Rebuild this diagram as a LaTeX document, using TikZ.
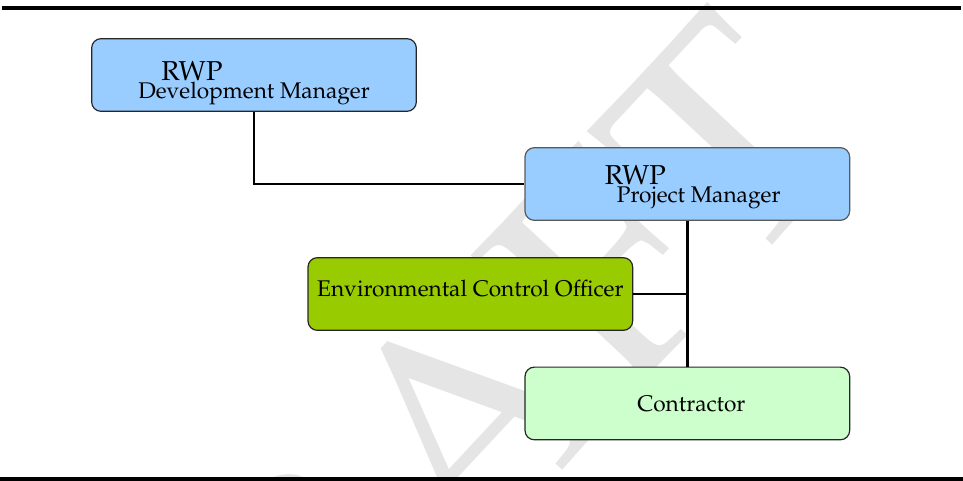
\documentclass[tikz,border=0pt]{standalone}
\usepackage[T1]{fontenc}
\usepackage{mathpazo}
\usepackage{tikz}
\usetikzlibrary{shapes,arrows}
\definecolor{birumuda}{HTML}{99CCFF}
\definecolor{hijau}{HTML}{99CC00}
\definecolor{hijaumuda}{HTML}{CCFFCC}
\tikzstyle{kotak} = [rectangle, draw=black!85, line width=0.9pt, rounded corners=7pt, minimum width=243.5pt, minimum height=54.5pt, inner sep=0pt, align=center, font=\fontsize{17}{13.5}\selectfont]
\tikzstyle{garis} = [draw, line width=2.1pt]
\tikzstyle{tepi} = [draw, line width=3pt]
\tikzstyle{tandaair} = [rotate=47, anchor=base east, inner sep=0pt, text=black!10, font=\fontsize{230}{230}\selectfont]
\newcommand{\rwp}{\fontsize{20.5}{13.5}\selectfont RWP}

\begin{document}
\begin{tikzpicture}[node distance = 1cm, auto]
\useasboundingbox (0,0) rectangle (722.25pt,-360.75pt);

% watermark
\begin{scope}
\clip (0,0) rectangle (722.25pt,-360.75pt);
\node [tandaair] (draft) at (650pt,-107pt) {DRAFT};
\end{scope}

% garis atas dan bawah
\coordinate (kiriatas) at (1.5pt,-6pt);
\coordinate (kananatas) at (720.75pt,-6pt);
\coordinate (kiribawah) at (0pt,-359.25pt);
\coordinate (kananbawah) at (722.25pt,-359.25pt);
\path[tepi](kiriatas) -- (kananatas);
\path[tepi](kiribawah) -- (kananbawah);

\node [kotak, fill=birumuda] (manajer) at (190.5pt,-56.25pt) {\rule{0pt}{26pt}\hspace*{-93pt}{\rwp}\\ Development Manager};
\node [kotak, fill=birumuda, draw=black!65, below of=manajer, node distance=81.75pt, xshift=325pt] (proyek) {\rule{0pt}{18.6pt}\hspace*{-78pt}{\rwp}\\ \hspace*{17pt}Project Manager};
\node [kotak, fill=hijau, below of=proyek, node distance=82.5pt, xshift=-162.75pt] (eco) {\rule[-9pt]{0pt}{9pt}Environmental Control Officer};
\node [kotak, fill=hijaumuda, below of=proyek, node distance=164.6pt] (kontraktor) {\hspace*{6pt}Contractor};

\path[garis](manajer) |- (proyek);
\path[garis](proyek) -- (kontraktor);
\path[garis](eco) -- (eco -| proyek);
\end{tikzpicture}
\end{document}
